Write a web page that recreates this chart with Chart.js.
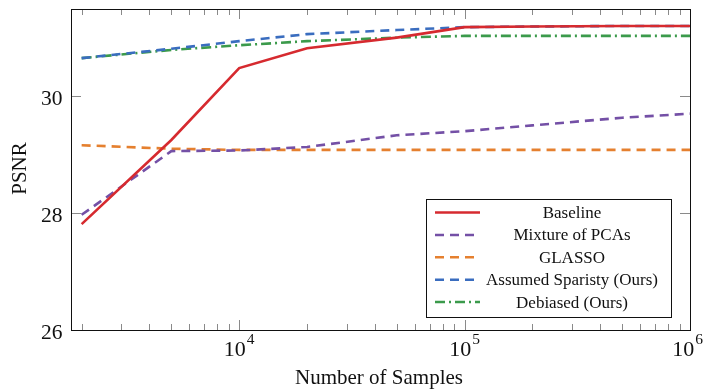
<!DOCTYPE html>
<html><head><meta charset="utf-8">
<script src="https://cdn.jsdelivr.net/npm/chart.js@4/dist/chart.umd.min.js"></script>
<style>html,body{margin:0;padding:0;background:#fff;}</style>
</head><body>
<canvas id="c" width="704" height="390"></canvas>
<script>
const samples = [2000, 5000, 10000, 20000, 50000, 100000, 200000, 500000, 1000000];
const baseline = [27.81, 29.25, 30.48, 30.82, 31.0, 31.18, 31.19, 31.2, 31.2];
const mixturePCA = [27.97, 29.06, 29.07, 29.13, 29.33, 29.4, 29.5, 29.63, 29.7];
const glasso = [29.16, 29.1, 29.08, 29.08, 29.08, 29.08, 29.08, 29.08, 29.08];
const assumedSparsity = [30.65, 30.81, 30.94, 31.06, 31.13, 31.18, 31.19, 31.2, 31.2];
const debiased = [30.65, 30.79, 30.87, 30.94, 31.0, 31.03, 31.03, 31.03, 31.03];
const seriesNames = ['Baseline', 'Mixture of PCAs', 'GLASSO', 'Assumed Sparisty (Ours)', 'Debiased (Ours)'];
const xMajorTicks = [10000, 100000, 1000000];
const xMajorExp = ['4', '5', '6'];
const xMinorTicks = [2000, 3000, 4000, 5000, 6000, 7000, 8000, 9000,
  20000, 30000, 40000, 50000, 60000, 70000, 80000, 90000,
  200000, 300000, 400000, 500000, 600000, 700000, 800000, 900000];
const yTicks = [26, 28, 30];
const xTitle = 'Number of Samples';
const yTitle = 'PSNR';

const FONT = '"Liberation Serif", "Times New Roman", serif';
const toPts = arr => arr.map((v, i) => ({x: samples[i], y: v}));
const styles = [
  {c: '#d62a2f', dash: []},
  {c: '#7450a6', dash: [9, 6]},
  {c: '#e5802f', dash: [9, 6]},
  {c: '#3a6dbf', dash: [9, 6]},
  {c: '#3b9a4b', dash: [10, 4, 2, 4]}
];
const allSeries = [baseline, mixturePCA, glasso, assumedSparsity, debiased];
const datasets = allSeries.map((s, i) => ({
  label: seriesNames[i], data: toPts(s), borderColor: styles[i].c, borderDash: styles[i].dash,
  borderWidth: 2.6, pointRadius: 0, tension: 0, fill: false
}));

const decor = {
  id: 'decor',
  afterDatasetsDraw(chart) {
    const ctx = chart.ctx, a = chart.chartArea;
    const xs = chart.scales.x, ys = chart.scales.y;
    ctx.save();
    // ticks
    ctx.strokeStyle = '#8a8a8a'; ctx.lineWidth = 1; ctx.setLineDash([]);
    ctx.beginPath();
    xMinorTicks.forEach(v => { const x = Math.round(xs.getPixelForValue(v)) + 0.5;
      ctx.moveTo(x, a.bottom); ctx.lineTo(x, a.bottom - 6); ctx.moveTo(x, a.top); ctx.lineTo(x, a.top + 6); });
    xMajorTicks.forEach(v => { const x = Math.round(xs.getPixelForValue(v)) + 0.5;
      ctx.moveTo(x, a.bottom); ctx.lineTo(x, a.bottom - 10); ctx.moveTo(x, a.top); ctx.lineTo(x, a.top + 10); });
    yTicks.forEach(v => { const y = Math.round(ys.getPixelForValue(v)) + 0.5;
      ctx.moveTo(a.left, y); ctx.lineTo(a.left + 10, y); ctx.moveTo(a.right, y); ctx.lineTo(a.right - 10, y); });
    ctx.stroke();
    // frame
    ctx.strokeStyle = '#111'; ctx.lineWidth = 1;
    ctx.strokeRect(Math.round(a.left) + 0.5, Math.round(a.top) + 0.5, Math.round(a.right - a.left), Math.round(a.bottom - a.top));
    // y labels
    ctx.fillStyle = '#111';
    ctx.font = '21.5px ' + FONT; ctx.textAlign = 'right'; ctx.textBaseline = 'alphabetic';
    yTicks.forEach(v => ctx.fillText(String(v), a.left - 8.5, ys.getPixelForValue(v) + 8.5));
    // x labels 10^n
    xMajorTicks.forEach((v, i) => {
      const x = xs.getPixelForValue(v);
      ctx.font = '22px ' + FONT; ctx.textBaseline = 'alphabetic';
      const w1 = ctx.measureText('10').width;
      ctx.font = '15.5px ' + FONT;
      const w2 = ctx.measureText(xMajorExp[i]).width;
      let start = x - (w1 + w2 + 1) / 2;
      if (start + w1 + w2 + 1 > 703) start = 703 - (w1 + w2 + 1);
      ctx.textAlign = 'left';
      ctx.font = '22px ' + FONT; ctx.fillText('10', start, a.bottom + 26);
      ctx.font = '15.5px ' + FONT; ctx.fillText(xMajorExp[i], start + w1 + 1, a.bottom + 14);
    });
    // titles
    ctx.font = '21px ' + FONT; ctx.textAlign = 'center'; ctx.textBaseline = 'alphabetic';
    ctx.fillText(xTitle, 379, 384);
    ctx.save(); ctx.translate(26, 168.5); ctx.rotate(-Math.PI / 2);
    ctx.fillText(yTitle, 0, 0); ctx.restore();
    // legend
    const lx = 426.5, ly = 199.5, lw = 245, lh = 118;
    ctx.fillStyle = '#fff'; ctx.fillRect(lx, ly, lw, lh);
    ctx.strokeStyle = '#111'; ctx.lineWidth = 1; ctx.strokeRect(lx, ly, lw, lh);
    chart.data.datasets.forEach((d, i) => {
      const y = 212.5 + i * 22.4;
      ctx.strokeStyle = d.borderColor; ctx.lineWidth = 2.5; ctx.setLineDash(d.borderDash);
      ctx.beginPath(); ctx.moveTo(435, y); ctx.lineTo(480, y); ctx.stroke();
      ctx.setLineDash([]);
      ctx.fillStyle = '#111'; ctx.font = '17px ' + FONT; ctx.textAlign = 'center'; ctx.textBaseline = 'middle';
      ctx.fillText(d.label, 572, y + 1);
    });
    ctx.restore();
  }
};

new Chart(document.getElementById('c'), {
  type: 'line',
  data: {datasets},
  options: {
    responsive: false, animation: false, devicePixelRatio: 1,
    layout: {padding: {left: 71, right: 14, top: 9, bottom: 60}},
    plugins: {legend: {display: false}, tooltip: {enabled: false}},
    scales: {
      x: {type: 'logarithmic', min: 1794, max: 1000000, display: false},
      y: {type: 'linear', min: 26, max: 31.49, display: false}
    }
  },
  plugins: [decor]
});
</script>
</body></html>
